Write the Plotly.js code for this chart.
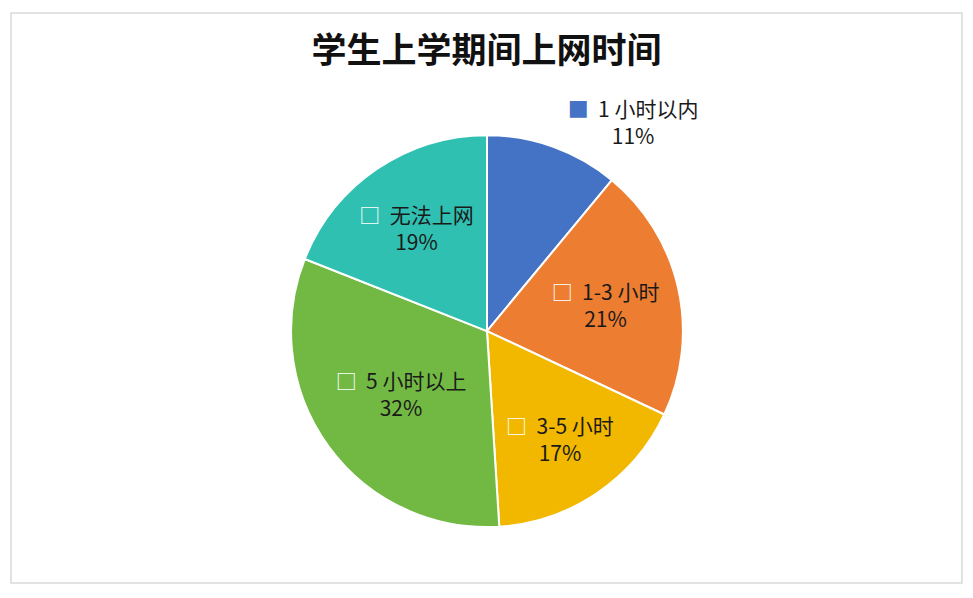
<!DOCTYPE html>
<html>
<head>
<meta charset="utf-8">
<script src="https://cdn.plot.ly/plotly-3.0.1.min.js"></script>
<style>html,body{margin:0;padding:0;background:#fff;}#chart{width:973px;height:598px;}</style>
</head>
<body>
<div id="chart"></div>
<script>
const categories = ["1 小时以内", "1-3 小时", "3-5 小时", "5 小时以上", "无法上网"];
const values = [11, 21, 17, 32, 19];
const colors = ["#4472C4", "#ED7D31", "#F2B800", "#72B944", "#30C0B2"];
const keyMarks = ["<span style='color:#4472C4'>■</span>", "<span style='color:#ffffff'>□</span>", "<span style='color:#ffffff'>□</span>", "<span style='color:#ffffff'>□</span>", "<span style='color:#ffffff'>□</span>"];
const textPos = ["outside", "inside", "inside", "inside", "inside"];

const trace = {
  type: "pie",
  labels: categories,
  values: values,
  customdata: keyMarks,
  sort: false,
  direction: "clockwise",
  rotation: 0,
  marker: {colors: colors, line: {color: "#ffffff", width: 2}},
  texttemplate: "%{customdata}  %{label}<br>%{percent:.0%}",
  textposition: textPos,
  insidetextorientation: "horizontal",
  textfont: {family: "'Noto Sans CJK SC', 'Liberation Sans', sans-serif", size: 21, color: "#1a1a1a"},
  hoverinfo: "label+percent",
  showlegend: false,
  automargin: false,
  domain: {x: [0.299, 0.702], y: [0.1187, 0.774]}
};

const layout = {
  width: 973, height: 598,
  margin: {l: 0, r: 0, t: 0, b: 0},
  paper_bgcolor: "#ffffff",
  showlegend: false,
  title: {text: "学生上学期间上网时间", x: 0.5, xanchor: "center", y: 0.915, yanchor: "middle",
          font: {family: "'Noto Sans CJK SC', sans-serif", size: 35, color: "#111111", weight: 700}},
  shapes: [{type: "rect", xref: "paper", yref: "paper", x0: 11/973, x1: 962/973, y0: 1 - 583/598, y1: 1 - 13/598,
            line: {color: "#d9d9d9", width: 1.5}, fillcolor: "rgba(0,0,0,0)"}]
};

Plotly.newPlot("chart", [trace], layout, {displayModeBar: false, staticPlot: true});
</script>
</body>
</html>
